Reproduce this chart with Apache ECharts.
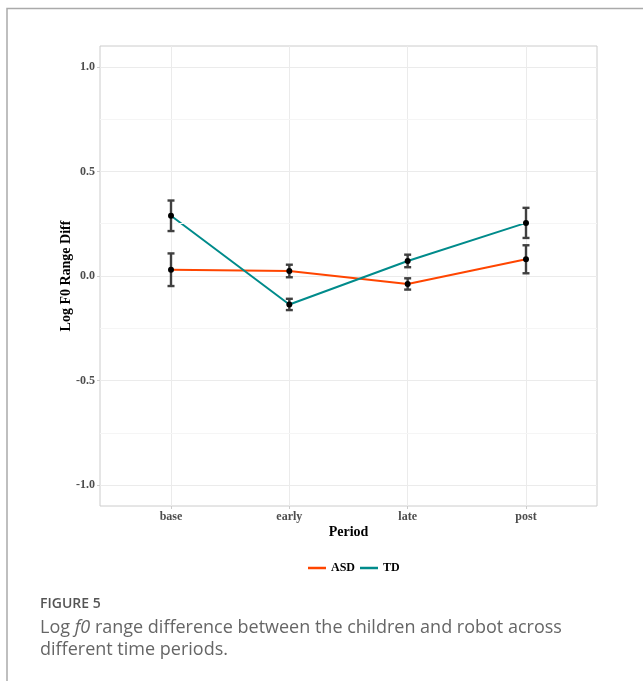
<!DOCTYPE html>
<html>
<head>
<meta charset="utf-8">
<script src="https://cdn.jsdelivr.net/npm/echarts@6/dist/echarts.min.js"></script>
<style>html,body{margin:0;padding:0;background:#fff;}#c{width:643px;height:681px;}</style>
</head>
<body>
<div id="c"></div>
<script>
var categories = ['base', 'early', 'late', 'post'];
var asdMean = [0.030, 0.024, -0.038, 0.080];
var asdErr  = [0.078, 0.030, 0.027, 0.067];
var tdMean  = [0.288, -0.136, 0.072, 0.254];
var tdErr   = [0.073, 0.027, 0.030, 0.072];
var yTicks = [-1.0, -0.5, 0.0, 0.5, 1.0];
var yMinor = [-0.75, -0.25, 0.25, 0.75];
var seriesNames = ['ASD', 'TD'];
var seriesColors = ['#FF4500', '#008B8B'];

var chart = echarts.init(document.getElementById('c'), null, {renderer: 'canvas'});
var xIdx = categories.map(function (c, i) { return i; });
function pairs(m) { return m.map(function (v, i) { return [i, v]; }); }
function errData(m, e) { return m.map(function (v, i) { return [i, v - e[i], v + e[i], v]; }); }

var serif = 'Liberation Serif, Times New Roman, serif';

function renderErr(params, api) {
  var x = api.value(0);
  var lo = api.coord([x, api.value(1)]);
  var hi = api.coord([x, api.value(2)]);
  var mid = api.coord([x, api.value(3)]);
  var cap = 3.5;
  var st = {stroke: '#404040', lineWidth: 2.4};
  return {
    type: 'group',
    children: [
      {type: 'line', shape: {x1: lo[0], y1: lo[1], x2: hi[0], y2: hi[1]}, style: st},
      {type: 'line', shape: {x1: lo[0] - cap, y1: lo[1], x2: lo[0] + cap, y2: lo[1]}, style: st},
      {type: 'line', shape: {x1: hi[0] - cap, y1: hi[1], x2: hi[0] + cap, y2: hi[1]}, style: st},
      {type: 'circle', shape: {cx: mid[0], cy: mid[1], r: 3}, style: {fill: '#000'}, z2: 10}
    ]
  };
}

var option = {
  animation: false,
  backgroundColor: '#fff',
  grid: {left: 100, top: 46, right: 46, bottom: 175, show: true, borderColor: '#cccccc', borderWidth: 1, backgroundColor: 'transparent'},
  legend: {
    left: 303, top: 557, itemWidth: 18, itemHeight: 2.5, itemGap: 5, icon: 'rect',
    data: seriesNames.map(function (n, i) { return {name: n, itemStyle: {color: seriesColors[i]}}; }),
    textStyle: {fontFamily: serif, fontWeight: 'bold', fontSize: 12, color: '#000'}
  },
  xAxis: {
    type: 'value', min: -0.6, max: 3.6,
    name: 'Period', nameLocation: 'middle', nameGap: 19, nameMoveOverlap: false,
    nameTextStyle: {fontFamily: serif, fontWeight: 'bold', fontSize: 14, color: '#000'},
    axisLine: {show: false, onZero: false},
    axisTick: {show: true, customValues: xIdx, length: 3, lineStyle: {color: '#cccccc'}},
    axisLabel: {customValues: xIdx, margin: 5, formatter: function (v) { return categories[Math.round(v)]; },
      fontFamily: serif, fontWeight: 'bold', fontSize: 12, color: '#4d4d4d'},
    splitLine: {show: true, lineStyle: {color: '#ebebeb', width: 1}}
  },
  yAxis: {
    type: 'value', min: -1.1, max: 1.1,
    name: 'Log F0 Range Diff', nameLocation: 'middle', nameGap: 27, nameRotate: 90, nameMoveOverlap: false,
    nameTextStyle: {fontFamily: serif, fontWeight: 'bold', fontSize: 14, color: '#000'},
    axisLine: {show: false, onZero: false},
    axisTick: {show: true, customValues: yTicks, length: 3, lineStyle: {color: '#cccccc'}},
    axisLabel: {customValues: yTicks, margin: 5, formatter: function (v) { return v.toFixed(1); },
      fontFamily: serif, fontWeight: 'bold', fontSize: 12, color: '#4d4d4d'},
    splitLine: {show: true, lineStyle: {color: '#ebebeb', width: 1}}
  },
  series: [
    {
      name: 'minor', type: 'line', data: [], silent: true,
      markLine: {silent: true, symbol: 'none', label: {show: false},
        lineStyle: {color: '#f5f5f5', width: 1, type: 'solid'},
        data: yMinor.map(function (v) { return {yAxis: v}; })}
    },
    {name: 'ASD', type: 'line', data: pairs(asdMean), symbol: 'none', color: seriesColors[0], lineStyle: {width: 2, color: seriesColors[0]}, z: 3},
    {name: 'TD', type: 'line', data: pairs(tdMean), symbol: 'none', color: seriesColors[1], lineStyle: {width: 2, color: seriesColors[1]}, z: 3},
    {name: 'ASDerr', type: 'custom', renderItem: renderErr, data: errData(asdMean, asdErr), z: 5, silent: true},
    {name: 'TDerr', type: 'custom', renderItem: renderErr, data: errData(tdMean, tdErr), z: 5, silent: true}
  ],
  graphic: [
    {type: 'polyline', shape: {points: [[7, 681], [7, 8.5], [643, 8.5]]}, style: {stroke: '#aaaaaa', lineWidth: 1.5, fill: null}},
    {type: 'text', left: 40, top: 597, style: {text: 'FIGURE 5', font: '600 14px "Open Sans", sans-serif', fill: '#555555'}},
    {type: 'text', left: 40, top: 617, style: {
      text: '{a|Log }{i|f0}{a| range difference between the children and robot across}\n{a|different time periods.}',
      lineHeight: 22,
      rich: {
        a: {font: '18px "Open Sans", sans-serif', fill: '#666666', lineHeight: 22},
        i: {font: 'italic 18px "Open Sans", sans-serif', fill: '#666666', lineHeight: 22}
      }
    }}
  ]
};
chart.setOption(option);
</script>
</body>
</html>
